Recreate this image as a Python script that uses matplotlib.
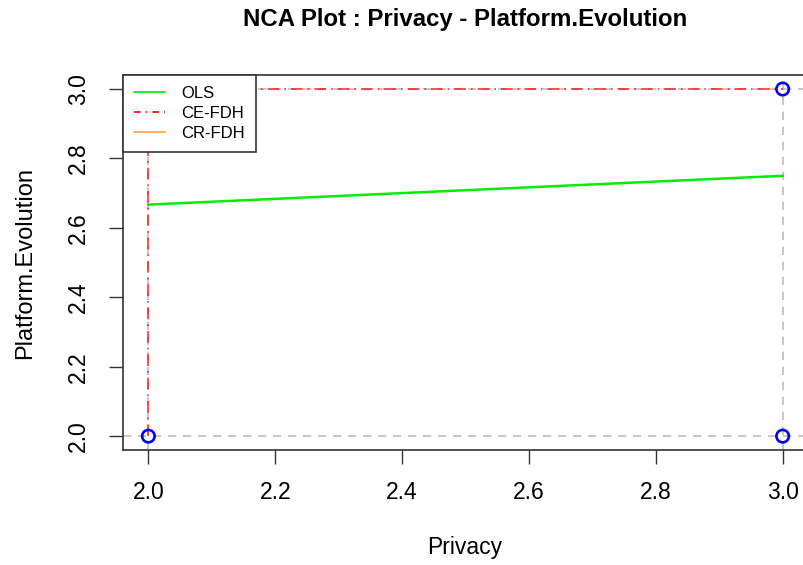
import matplotlib
matplotlib.use("Agg")
import matplotlib.pyplot as plt
from matplotlib.lines import Line2D

plt.rcParams['font.family'] = ['Liberation Sans', 'DejaVu Sans']

# observed points
privacy = [2, 2, 3, 3]
platform_evolution = [2, 3, 2, 3]

# OLS fit end points
ols_x = [2, 3]
ols_y = [2.667, 2.75]

# CE-FDH ceiling (step)
ce_x = [2, 2, 3]
ce_y = [2, 3, 3]

# scope limits
x_scope = [2, 3]
y_scope = [2, 3]

ticks = [2.0, 2.2, 2.4, 2.6, 2.8, 3.0]

fig = plt.figure(figsize=(8.04, 5.65), dpi=100)
ax = fig.add_axes([0.153, 0.2035, 0.852, 0.6635])

# scope box lines
for xv in x_scope:
    ax.axvline(xv, color='#bdbdbd', ls=(0, (5, 4)), lw=1.2, zorder=1)
for yv in y_scope:
    ax.axhline(yv, color='#bdbdbd', ls=(0, (5, 4)), lw=1.2, zorder=1)

ax.plot(ols_x, ols_y, color='#00ee00', lw=1.8, zorder=2)
ax.plot(ce_x, ce_y, color='red', lw=1.2, ls=(0, (7, 3, 1, 3)), alpha=0.8, zorder=3)
ax.scatter(privacy, platform_evolution, s=80, facecolors='none', edgecolors='blue',
           linewidths=1.9, zorder=4)

x0 = min(privacy)
x1 = max(privacy)
y0 = min(platform_evolution)
y1 = max(platform_evolution)
pad_x = (x1 - x0) * 0.04
pad_y = (y1 - y0) * 0.04
ax.set_xlim(x0 - pad_x, x1 + pad_x)
ax.set_ylim(y0 - pad_y, y1 + pad_y)

ax.set_xticks(ticks)
ax.set_yticks(ticks)
ax.set_xticklabels([f"{t:.1f}" for t in ticks], fontsize=16.5)
ax.set_yticklabels([f"{t:.1f}" for t in ticks], fontsize=16.5, rotation=90, va='center')
ax.tick_params(direction='out', length=10, width=1, color='#333333')
ax.tick_params(axis='x', pad=12)
ax.tick_params(axis='y', pad=14)
for sp in ax.spines.values():
    sp.set_linewidth(1.2)
    sp.set_color('#333333')

ax.set_xlabel("Privacy", fontsize=16.5, va='center')
ax.xaxis.set_label_coords(0.4995, -0.261)
ax.set_ylabel("Platform.Evolution", fontsize=17, va='center')
ax.yaxis.set_label_coords(-0.143, 0.5)
fig.text(0.578, 0.9655, "NCA Plot : Privacy - Platform.Evolution", fontsize=17.3,
         fontweight='bold', ha='center', va='center')

handles = [
    Line2D([], [], color='#00ee00', lw=1.2),
    Line2D([], [], color='red', lw=1.2, ls=(0, (4, 3, 1, 3))),
    Line2D([], [], color='#ffa040', lw=1.2),
]
leg = ax.legend(handles, ["OLS", "CE-FDH", "CR-FDH"], loc='upper left',
                bbox_to_anchor=(0, 1), borderaxespad=0, fontsize=12,
                fancybox=False, edgecolor='#333333', framealpha=1,
                handlelength=1.86, labelspacing=0.3, borderpad=0.65,
                handletextpad=1.0)
leg.get_frame().set_linewidth(1.2)
leg.set_zorder(5)

fig.savefig("out.png", dpi=100)
